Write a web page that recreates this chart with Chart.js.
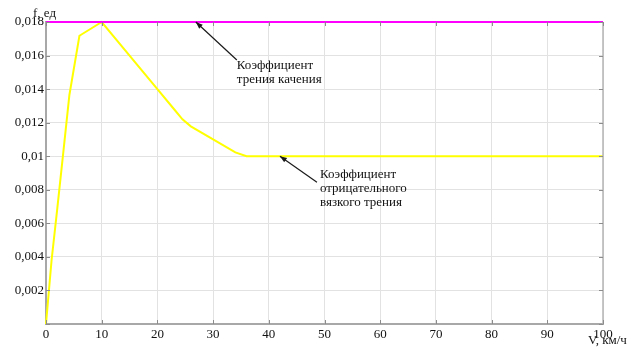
<!DOCTYPE html>
<html>
<head>
<meta charset="utf-8">
<script src="https://cdn.jsdelivr.net/npm/chart.js@4/dist/chart.umd.min.js"></script>
<style>
  html, body { margin: 0; padding: 0; background: #ffffff; }
  #wrap { width: 634px; height: 347px; position: relative; }
</style>
</head>
<body>
<div id="wrap"><canvas id="c" width="634" height="347"></canvas></div>
<script>
// Speed, km/h, and friction coefficients
const speedViscous = [0, 1, 2, 3, 4.2, 6, 10, 20, 23, 24.5, 26, 30, 34, 36, 100];
const fViscous     = [0, 0.0038, 0.0068, 0.0099, 0.01365, 0.01718, 0.018, 0.0140, 0.0128, 0.0122, 0.01178, 0.0110, 0.01023, 0.01, 0.01];
const speedRolling = [0, 100];
const fRolling     = [0.018, 0.018];

const xTicks = [0, 10, 20, 30, 40, 50, 60, 70, 80, 90, 100];
const yTickLabels = ['', '0,002', '0,004', '0,006', '0,008', '0,01', '0,012', '0,014', '0,016', '0,018'];

const seriesNames = ['Коэффициент трения качения', 'Коэффициент отрицательного вязкого трения'];
const notes = [
  { x: 26.9, y: 0.018, lines: ['Коэффициент', 'трения качения'], dx: 41, dy: 38, tx: 41, ty: 44 },
  { x: 42,   y: 0.01,  lines: ['Коэффициент', 'отрицательного', 'вязкого трения'], dx: 37, dy: 26, tx: 40, ty: 18 }
];

const FONT = '"Liberation Serif", "Times New Roman", serif';

function pts(xs, ys) { return xs.map((x, i) => ({ x: x, y: ys[i] })); }

// frame edges, inward tick marks, axis captions and call-outs
const decor = {
  id: 'decor',
  afterDatasetsDraw(chart) {
    const { ctx, chartArea: a, scales: { x, y } } = chart;
    ctx.save();
    // right edge
    ctx.strokeStyle = '#b4b4b4';
    ctx.lineWidth = 1.5;
    ctx.beginPath();
    ctx.moveTo(a.right, a.top);
    ctx.lineTo(a.right, a.bottom);
    ctx.stroke();
    // inward ticks
    ctx.strokeStyle = '#8c8c8c';
    ctx.lineWidth = 1;
    ctx.beginPath();
    xTicks.forEach(v => {
      const px = Math.round(x.getPixelForValue(v)) + 0.5;
      ctx.moveTo(px, a.bottom); ctx.lineTo(px, a.bottom - 4);
      ctx.moveTo(px, a.top); ctx.lineTo(px, a.top + 4);
    });
    yTickLabels.forEach((_, i) => {
      const py = Math.round(y.getPixelForValue(i * 0.002)) + 0.5;
      ctx.moveTo(a.left, py); ctx.lineTo(a.left + 4, py);
      ctx.moveTo(a.right, py); ctx.lineTo(a.right - 4, py);
    });
    ctx.stroke();
    ctx.restore();
  },
  afterDraw(chart) {
    const { ctx, chartArea: a, scales: { x, y } } = chart;
    ctx.save();
    ctx.fillStyle = '#111111';
    ctx.font = '13px ' + FONT;
    ctx.textBaseline = 'middle';
    ctx.textAlign = 'left';
    ctx.fillText('f, ед', a.left - 13, a.top - 8);
    ctx.fillText('V, км/ч', a.right - 15, a.bottom + 17);

    notes.forEach(n => {
      const hx = x.getPixelForValue(n.x);
      const hy = y.getPixelForValue(n.y);
      const ex = hx + n.dx, ey = hy + n.dy;
      ctx.strokeStyle = '#1a1a1a';
      ctx.lineWidth = 1.2;
      ctx.beginPath();
      ctx.moveTo(ex, ey);
      ctx.lineTo(hx, hy);
      ctx.stroke();
      const ang = Math.atan2(hy - ey, hx - ex);
      const L = 7, W = 2.6;
      ctx.beginPath();
      ctx.moveTo(hx, hy);
      ctx.lineTo(hx - L * Math.cos(ang) + W * Math.sin(ang), hy - L * Math.sin(ang) - W * Math.cos(ang));
      ctx.lineTo(hx - L * Math.cos(ang) - W * Math.sin(ang), hy - L * Math.sin(ang) + W * Math.cos(ang));
      ctx.closePath();
      ctx.fillStyle = '#1a1a1a';
      ctx.fill();
      ctx.fillStyle = '#111111';
      n.lines.forEach((t, i) => ctx.fillText(t, hx + n.tx, hy + n.ty + i * 14));
    });
    ctx.restore();
  }
};

new Chart(document.getElementById('c'), {
  type: 'scatter',
  data: {
    datasets: [
      {
        label: seriesNames[0],
        data: pts(speedRolling, fRolling),
        showLine: true,
        borderColor: '#ff00ff',
        borderWidth: 2,
        pointRadius: 0,
        clip: false,
        order: 0
      },
      {
        label: seriesNames[1],
        data: pts(speedViscous, fViscous),
        showLine: true,
        borderColor: '#ffff00',
        borderWidth: 2,
        pointRadius: 0,
        tension: 0,
        clip: false,
        order: 1
      }
    ]
  },
  options: {
    responsive: false,
    animation: false,
    layout: { padding: { top: 22, right: 31, bottom: 0, left: 0 } },
    plugins: { legend: { display: false }, tooltip: { enabled: false } },
    scales: {
      x: {
        type: 'linear',
        min: 0, max: 100,
        afterBuildTicks: s => { s.ticks = xTicks.map(v => ({ value: v })); },
        afterFit: s => { s.height = 23; },
        ticks: {
          padding: 3,
          color: '#111111',
          font: { family: FONT, size: 13 },
          maxRotation: 0,
          callback: v => String(v)
        },
        grid: { color: '#e2e2e2', lineWidth: 1, drawTicks: false },
        border: { color: '#a8a8a8', width: 2 }
      },
      y: {
        type: 'linear',
        min: 0, max: 0.018,
        afterBuildTicks: s => { s.ticks = yTickLabels.map((_, i) => ({ value: i * 0.002 })); },
        afterFit: s => { s.width = 46; },
        ticks: {
          padding: 2,
          color: '#111111',
          font: { family: FONT, size: 13 },
          callback: (v, i) => yTickLabels[i]
        },
        grid: { color: '#e2e2e2', lineWidth: 1, drawTicks: false },
        border: { color: '#a8a8a8', width: 2 }
      }
    }
  },
  plugins: [decor]
});
</script>
</body>
</html>
